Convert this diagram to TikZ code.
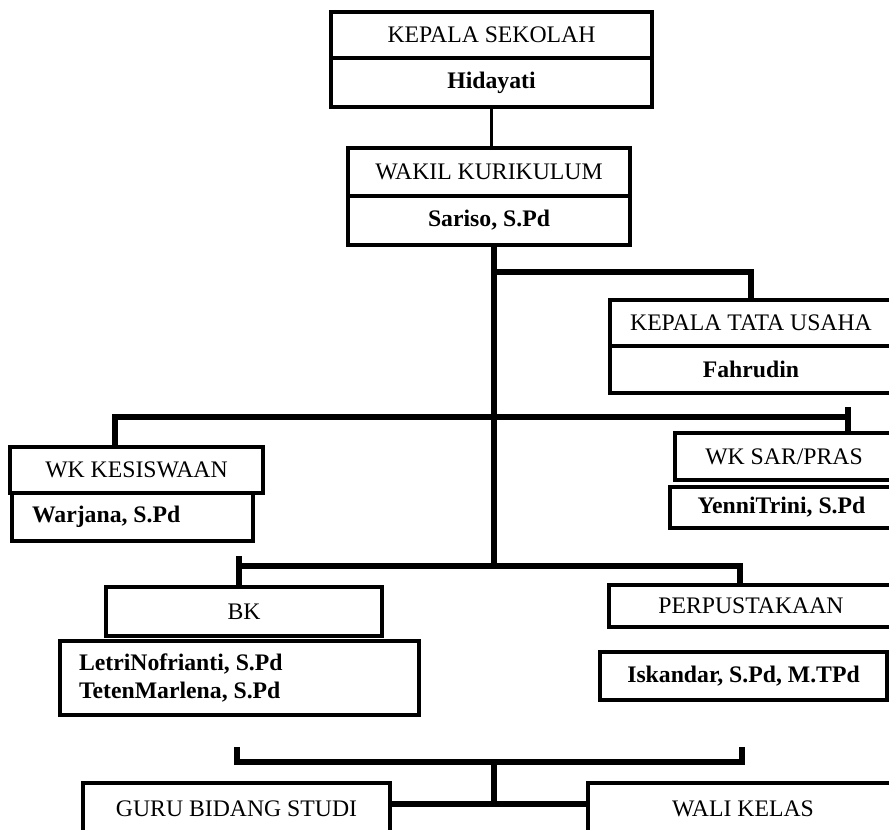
\documentclass[tikz,border=0pt]{standalone}
\usepackage{fontspec}
\setmainfont{Liberation Serif}
\usepackage{tikz}

\begin{document}
\frenchspacing
\begin{tikzpicture}[x=0.02cm, y=-0.02cm]
  \tikzset{box/.style={draw, line width=2pt, inner sep=0pt, align=center, font=\fontsize{13.5}{15.5}\selectfont},
    person/.style={box, font=\fontsize{13.5}{15.5}\selectfont\bfseries},
    sz/.style 2 args={minimum width=#1*0.02cm, minimum height=#2*0.02cm},
    lpad/.style 2 args={align=flush left, text width=#1*0.02cm, inner xsep=#2*0.02cm},
    bus/.style={line width=3.2pt},
    lnk/.style={line width=1.6pt}}

  \useasboundingbox (0,0) rectangle (889,829);
  \clip (0,0) rectangle (889,829);

  % Kepala sekolah
  \node[box, sz={321}{46}] (kst) at (491.5,35) {KEPALA SEKOLAH};
  \node[person, sz={321}{49}] (ksn) at (491.5,82.5) {Hidayati};

  % Wakil kurikulum
  \node[box, sz={282}{48}] (wkt) at (489,172) {WAKIL KURIKULUM};
  \node[person, sz={282}{49}] (wkn) at (489,220.5) {Sariso, S.Pd};

  % Kepala tata usaha
  \node[box, sz={282}{46}] (ktut) at (751,323) {KEPALA TATA USAHA};
  \node[person, sz={282}{47}] (ktun) at (751,369.5) {Fahrudin};

  % WK kesiswaan / WK sarpras
  \node[box, sz={253}{46}] (kest) at (136.5,470) {WK KESISWAAN};
  \node[person, sz={241}{48}, lpad={201}{20}] (kesn) at (132.5,517) {Warjana, S.Pd};
  \node[box, sz={218}{47}] (sart) at (784,456.5) {WK SAR/PRAS};
  \node[person, sz={223}{41}] (sarn) at (781.5,507.5) {YenniTrini, S.Pd};

  % BK / perpustakaan
  \node[box, sz={276}{49}] (bkt) at (244,611.5) {BK};
  \node[person, sz={359}{74}, lpad={321}{19}] (bkn) at (239.5,678) {LetriNofrianti, S.Pd\\TetenMarlena, S.Pd};
  \node[box, sz={284}{42}] (perpt) at (751,606) {PERPUSTAKAAN};
  \node[person, sz={287}{48}] (perpn) at (743.5,676) {Iskandar, S.Pd, M.TPd};

  % Guru / wali kelas
  \node[box, sz={307}{52}] (guru) at (236.5,809) {GURU BIDANG STUDI};
  \node[box, sz={310}{52}] (wali) at (743,809) {WALI KELAS};

  % junctions
  \coordinate (t0) at (494,245);
  \coordinate (j1) at (494,272);
  \coordinate (j2) at (494,417);
  \coordinate (j3) at (494,566);
  \coordinate (j4) at (494,762);
  \coordinate (j5) at (494,804);
  \coordinate (a1) at (115,447);
  \coordinate (a2) at (848,433);
  \coordinate (b1) at (239,587);
  \coordinate (b2) at (740,585);
  \coordinate (c1) at (237,747);
  \coordinate (c2) at (742,747);

  % connectors
  \draw[lnk] (ksn.south) -- (ksn.south |- wkt.north);
  \draw[bus] (t0) -- (j3);
  \draw[bus] (j1) -| (ktut.north);
  \draw[bus] (a1) |- (j2) -| (a2);
  \draw[bus] (a2) -- ++(0,-26);
  \draw[bus] (b1) |- (j3) -| (b2);
  \draw[bus] (b1) -- ++(0,-31);
  \draw[bus] (c1) |- (j4) -| (c2);
  \draw[bus] (j4) -- (j5);
  \draw[bus] (guru.east |- j5) -- (wali.west |- j5);
\end{tikzpicture}
\end{document}
